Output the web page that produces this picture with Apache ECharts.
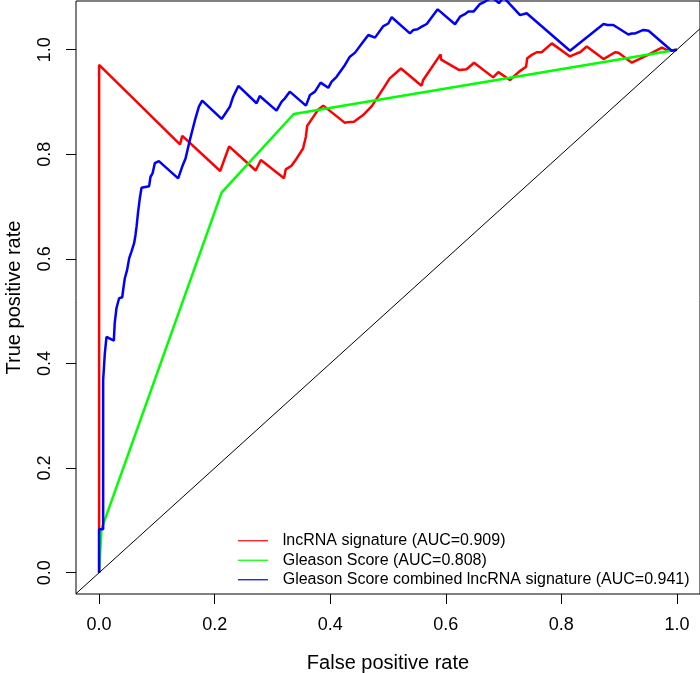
<!DOCTYPE html>
<html>
<head>
<meta charset="utf-8">
<script src="https://cdn.jsdelivr.net/npm/echarts@6/dist/echarts.min.js"></script>
<style>html,body{margin:0;padding:0;background:#fff;}#c{width:700px;height:673px;}</style>
</head>
<body>
<div id="c"></div>
<script>
var seriesNames = ['lncRNA signature (AUC=0.909)', 'Gleason Score (AUC=0.808)', 'Gleason Score combined lncRNA signature (AUC=0.941)'];
var xTicks = [0, 0.2, 0.4, 0.6, 0.8, 1.0];
var yTicks = [0, 0.2, 0.4, 0.6, 0.8, 1.0];
var diagonal = [[-0.04, -0.04], [1.04, 1.04]];

var redROC = [
  [0,0],[0,0.971],[0.140,0.819],[0.144,0.835],[0.2096,0.768],[0.225,0.815],[0.271,0.769],[0.280,0.789],
  [0.320,0.754],[0.323,0.771],[0.333,0.778],[0.342,0.792],[0.353,0.811],[0.358,0.834],[0.360,0.854],
  [0.371,0.872],[0.379,0.885],[0.388,0.893],[0.4255,0.860],[0.4296,0.8614],[0.441,0.862],[0.457,0.875],
  [0.472,0.892],[0.492,0.926],[0.503,0.945],[0.5225,0.964],[0.558,0.931],[0.561,0.942],[0.591,0.991],
  [0.592,0.981],[0.6235,0.961],[0.636,0.9625],[0.649,0.975],[0.682,0.947],[0.691,0.957],[0.711,0.942],
  [0.727,0.958],[0.739,0.9675],[0.741,0.9835],[0.749,0.990],[0.7575,0.995],[0.766,0.995],[0.7835,1.012],
  [0.815,0.987],[0.827,0.993],[0.8325,0.995],[0.844,1.006],[0.873,0.982],[0.893,0.995],[0.899,0.994],
  [0.922,0.975],[0.950,0.990],[0.974,1.004],[0.985,0.998],[1,1]
];

var greenROC = [[0,0],[0.004,0.083],[0.212,0.7266],[0.337,0.877],[1,1]];

var blueROC = [
  [0,0],[0,0.083],[0.007,0.083],[0.007,0.368],[0.0099,0.4195],[0.0128,0.451],[0.0255,0.4436],[0.027,0.477],
  [0.030,0.5055],[0.0346,0.5247],[0.040,0.5266],[0.0416,0.5405],[0.0445,0.563],[0.0485,0.579],[0.052,0.601],
  [0.056,0.614],[0.0606,0.630],[0.063,0.6457],[0.0648,0.6616],[0.0675,0.690],[0.0705,0.716],[0.0734,0.736],
  [0.0866,0.739],[0.089,0.757],[0.0925,0.7636],[0.0965,0.783],[0.1034,0.787],[0.1368,0.754],[0.1437,0.776],
  [0.1496,0.792],[0.157,0.827],[0.166,0.8656],[0.1727,0.891],[0.1784,0.9025],[0.212,0.8675],[0.2177,0.8765],
  [0.2264,0.891],[0.232,0.910],[0.241,0.9306],[0.2726,0.8975],[0.278,0.9115],[0.307,0.8834],[0.316,0.9006],
  [0.3216,0.907],[0.330,0.9197],[0.358,0.893],[0.365,0.9134],[0.3736,0.9197],[0.3834,0.937],[0.3966,0.927],
  [0.4025,0.939],[0.411,0.948],[0.4255,0.9707],[0.434,0.9866],[0.443,0.9943],[0.457,1.015],[0.466,1.028],
  [0.4775,1.023],[0.492,1.045],[0.5005,1.050],[0.5064,1.062],[0.538,1.031],[0.544,1.0377],[0.551,1.039],
  [0.5584,1.044],[0.567,1.049],[0.586,1.077],[0.616,1.0486],[0.6247,1.063],[0.633,1.0677],[0.639,1.0727],
  [0.648,1.0727],[0.659,1.087],[0.668,1.092],[0.680,1.10],[0.692,1.089],[0.700,1.10],[0.7286,1.066],
  [0.740,1.0696],[0.815,0.998],[0.873,1.049],[0.880,1.047],[0.890,1.047],[0.916,1.029],[0.922,1.031],
  [0.9278,1.031],[0.942,1.0377],[0.951,1.036],[0.991,0.998],[1,1]
];

var colors = ['#ff0000', '#00ff00', '#0000ff'];
var FONT = '"Liberation Sans", Arial, Helvetica, sans-serif';

var chart = echarts.init(document.getElementById('c'), null, {renderer: 'canvas'});

function curve(name, data, color) {
  return {
    name: name, type: 'line', data: data, showSymbol: false, symbol: 'none', smooth: false,
    clip: true, animation: false,
    lineStyle: {color: color, width: 2.5},
    itemStyle: {color: color}
  };
}

chart.setOption({
  animation: false,
  grid: {left: 76, right: 0, top: 1, bottom: 79, containLabel: false, outerBoundsMode: 'none',
    show: true, borderColor: '#000', borderWidth: 1, backgroundColor: 'transparent'},
  legend: {
    orient: 'vertical', left: 233, top: 526, itemGap: 0, itemWidth: 30, itemHeight: 1.2,
    icon: 'rect', selectedMode: false,
    itemStyle: {borderWidth: 0},
    textStyle: {fontFamily: FONT, fontSize: 16, color: '#000', lineHeight: 19.5, padding: [0, 0, 0, 9.7]},
    data: seriesNames
  },
  xAxis: {
    type: 'value', min: -0.04, max: 1.04,
    name: 'False positive rate', nameLocation: 'middle', nameGap: 59,
    nameTextStyle: {fontFamily: FONT, fontSize: 20, color: '#000'},
    axisLine: {show: false, onZero: false},
    splitLine: {show: false},
    axisTick: {show: true, length: 10, lineStyle: {color: '#000', width: 1}, customValues: xTicks},
    axisLabel: {customValues: xTicks, formatter: function (v) { return v.toFixed(1); },
      fontFamily: FONT, fontSize: 18, color: '#000', margin: 22}
  },
  yAxis: {
    type: 'value', min: -0.0407, max: 1.093,
    name: 'True positive rate', nameLocation: 'middle', nameGap: 52,
    nameTextStyle: {fontFamily: FONT, fontSize: 20, color: '#000'},
    axisLine: {show: false, onZero: false},
    splitLine: {show: false},
    axisTick: {show: true, length: 10, lineStyle: {color: '#000', width: 1}, customValues: yTicks},
    axisLabel: {customValues: yTicks, formatter: function (v) { return v.toFixed(1); },
      rotate: 90, fontFamily: FONT, fontSize: 18, color: '#000', margin: 22}
  },
  series: [
    curve(seriesNames[0], redROC, colors[0]),
    curve(seriesNames[1], greenROC, colors[1]),
    curve(seriesNames[2], blueROC, colors[2]),
    {
      name: 'diagonal', type: 'line', data: diagonal, showSymbol: false, symbol: 'none', clip: true,
      lineStyle: {color: '#000', width: 1}, itemStyle: {color: '#000'}, silent: true
    }
  ]
});
</script>
</body>
</html>
